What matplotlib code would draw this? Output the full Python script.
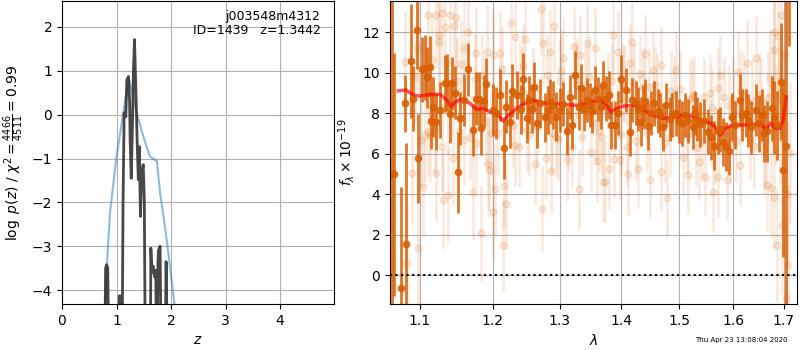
import matplotlib
matplotlib.use("Agg")
import matplotlib.pyplot as plt
from matplotlib.ticker import FixedLocator, FixedFormatter, NullLocator

# ---- left panel: log p(z) ----
z_pz = [0.78, 0.80, 0.82, 0.84, 0.86, 1.04, 1.05, 1.07, 1.09, 1.10, 1.12, 1.14,
        1.17, 1.19, 1.22, 1.24, 1.25, 1.27, 1.29, 1.31, 1.33, 1.36, 1.38, 1.40,
        1.42, 1.43, 1.44, 1.46, 1.49, 1.51, 1.53, 1.62, 1.63, 1.65, 1.67, 1.70,
        1.72, 1.74, 1.76, 1.77, 1.80, 1.82, 1.89, 1.91, 1.94]
logp = [-6.0, -3.5, -3.42, -3.5, -6.0, -6.0, -4.13, -4.13, -4.15, -6.0, -2.0, 0.04,
        -0.05, 0.80, 0.87, 0.30, -0.57, -1.45, -0.40, 1.00, 1.71, 0.33, -0.66, -1.48,
        -0.73, -1.60, -2.32, -1.34, -1.14, -1.94, -6.0, -6.0, -3.04, -3.60, -3.45, -3.70,
        -3.55, -6.0, -3.40, -3.10, -3.00, -6.0, -6.0, -3.35, -6.0]

z_prior = [0.76, 0.79, 0.83, 0.88, 1.00, 1.125, 1.18, 1.23, 1.30, 1.37, 1.49,
           1.61, 1.70, 1.74, 1.80, 1.86, 1.92, 1.99, 2.06, 2.10]
logp_prior = [-5.0, -4.3, -3.3, -2.24, -0.95, 0.04, 0.50, 0.80, 0.45, 0.04, -0.49,
              -0.95, -1.03, -1.05, -1.79, -2.30, -2.85, -3.55, -4.3, -5.0]

# ---- right panel: spectrum (flux x 1e-19) ----
# binned points
wave_bin = [1.064, 1.067, 1.076, 1.080, 1.082, 1.088, 1.091, 1.096, 1.097, 1.103,
            1.107, 1.109, 1.113, 1.115, 1.122, 1.127, 1.133, 1.136, 1.140, 1.143,
            1.151, 1.154, 1.160, 1.165, 1.172, 1.177, 1.180, 1.183, 1.190, 1.200,
            1.205, 1.217, 1.220, 1.225, 1.228, 1.235, 1.241, 1.244, 1.250, 1.254,
            1.261, 1.265, 1.270, 1.277, 1.282, 1.285, 1.290, 1.295, 1.300, 1.305,
            1.312, 1.320, 1.324, 1.330, 1.334, 1.338, 1.343, 1.349, 1.356, 1.361,
            1.366, 1.369, 1.375, 1.383, 1.390, 1.394, 1.400, 1.407, 1.414, 1.418,
            1.424, 1.428, 1.433, 1.440, 1.446, 1.451, 1.456, 1.462, 1.466, 1.471,
            1.477, 1.483, 1.488, 1.495, 1.505, 1.510, 1.516, 1.525, 1.533, 1.538,
            1.546, 1.553, 1.558, 1.564, 1.571, 1.581, 1.587, 1.592, 1.603, 1.613,
            1.618, 1.629, 1.635, 1.645, 1.650, 1.661, 1.666, 1.677, 1.681, 1.694,
            1.699, 1.705, 1.711, 1.118, 1.147, 1.187, 1.210, 1.258, 1.316, 1.352,
            1.379, 1.437, 1.499, 1.529, 1.576, 1.598, 1.624, 1.656, 1.687]
flux_bin = [5.0, 4.99, -0.65, 8.48, 1.52, 10.57, 8.72, 12.1, 5.76, 10.17,
            10.24, 9.76, 10.29, 7.62, 7.57, 8.15, 9.47, 9.50, 7.94, 9.47,
            5.07, 7.74, 8.64, 10.16, 7.16, 8.72, 8.72, 7.24, 9.42, 8.15,
            8.0, 6.26, 8.31, 7.57, 9.10, 8.89, 8.18, 9.66, 7.74, 8.64,
            9.30, 7.49, 8.48, 7.79, 8.15, 8.56, 8.40, 7.82, 8.15, 8.45,
            7.11, 7.41, 9.88, 8.28, 9.22, 8.20, 8.64, 8.40, 9.14, 8.70,
            8.30, 9.38, 8.72, 7.41, 7.41, 8.00, 9.68, 9.14, 7.08, 8.64,
            8.50, 8.20, 7.57, 8.60, 7.36, 8.00, 8.48, 8.10, 7.90, 7.32,
            8.40, 7.70, 7.90, 7.99, 7.49, 7.90, 7.60, 7.32, 7.70, 7.45,
            7.60, 7.08, 6.80, 6.39, 7.10, 6.58, 6.34, 6.14, 7.41, 8.64,
            7.90, 7.65, 7.30, 8.15, 7.50, 7.00, 7.10, 8.23, 7.80, 9.55,
            5.19, 6.39, 14.0, 8.30, 9.00, 8.60, 8.90, 8.20, 8.80, 8.10,
            8.90, 8.30, 7.60, 8.00, 7.20, 7.80, 8.00, 7.90, 7.40]
err_bin = [9.0, 6.0, 5.0, 1.4, 5.0, 2.8, 1.6, 1.9, 2.2, 1.6,
           1.6, 1.5, 1.5, 1.4, 1.4, 1.4, 1.4, 1.4, 1.4, 1.3,
           2.0, 1.3, 1.3, 1.3, 1.3, 1.3, 1.3, 1.3, 1.3, 1.3,
           1.3, 1.5, 1.3, 1.3, 1.3, 1.2, 1.2, 1.3, 1.2, 1.2,
           1.2, 1.2, 1.2, 1.2, 1.2, 1.1, 1.2, 1.2, 1.1, 1.1,
           1.2, 1.2, 1.2, 1.1, 1.2, 1.1, 1.1, 1.1, 1.2, 1.1,
           1.1, 1.2, 1.1, 1.2, 1.2, 1.1, 1.2, 1.1, 1.2, 1.1,
           1.1, 1.1, 1.2, 1.1, 1.2, 1.1, 1.1, 1.1, 1.1, 1.2,
           1.1, 1.1, 1.1, 1.1, 1.1, 1.1, 1.1, 1.1, 1.1, 1.1,
           1.1, 1.1, 1.1, 1.2, 1.1, 1.2, 1.2, 1.2, 1.2, 1.3,
           1.3, 1.3, 1.3, 1.3, 1.4, 1.4, 1.5, 1.6, 1.8, 2.9,
           4.3, 8.0, 2.7, 1.5, 1.3, 1.3, 1.3, 1.2, 1.1, 1.1,
           1.2, 1.1, 1.1, 1.1, 1.1, 1.2, 1.2, 1.3, 1.7]

# unbinned points
wave_raw = [1.081, 1.097, 1.111, 1.121, 1.130, 1.140, 1.149, 1.134, 1.146, 1.126,
            1.125, 1.165, 1.160, 1.177, 1.192, 1.200, 1.104, 1.089, 1.083, 1.097,
            1.122, 1.131, 1.138, 1.145, 1.172, 1.183, 1.200, 1.195, 1.193, 1.204,
            1.120, 1.111, 1.160, 1.177, 1.102, 1.129, 1.227, 1.271, 1.291, 1.274,
            1.233, 1.211, 1.248, 1.285, 1.323, 1.344, 1.356, 1.332, 1.305, 1.217,
            1.220, 1.215, 1.273, 1.232, 1.238, 1.263, 1.279, 1.287, 1.312, 1.331,
            1.350, 1.360, 1.369, 1.250, 1.295, 1.319, 1.207, 1.386, 1.418, 1.394,
            1.440, 1.468, 1.495, 1.453, 1.431, 1.415, 1.372, 1.380, 1.411, 1.428,
            1.448, 1.468, 1.479, 1.516, 1.537, 1.388, 1.397, 1.507, 1.410, 1.367,
            1.548, 1.562, 1.571, 1.588, 1.613, 1.645, 1.627, 1.666, 1.675, 1.681,
            1.686, 1.704, 1.694, 1.681, 1.681, 1.610, 1.575, 1.571, 1.713, 1.672,
            1.150, 1.185, 1.240, 1.260, 1.300, 1.340, 1.378, 1.405, 1.437, 1.460,
            1.490, 1.520, 1.545, 1.600, 1.622, 1.655, 1.690, 1.700, 1.107, 1.168,
            1.253, 1.297, 1.335, 1.425, 1.474, 1.530, 1.595, 1.640, 1.660,
            1.093, 1.116, 1.137, 1.156, 1.175, 1.190, 1.213, 1.230, 1.245, 1.266,
            1.281, 1.302, 1.314, 1.327, 1.347, 1.363, 1.384, 1.399, 1.421, 1.443,
            1.457, 1.484, 1.501, 1.514, 1.527, 1.541, 1.556, 1.566, 1.583, 1.605,
            1.616, 1.633, 1.650, 1.663, 1.678, 1.696, 1.113, 1.153, 1.198, 1.243,
            1.289, 1.326, 1.358, 1.403, 1.447, 1.486, 1.523, 1.560, 1.592, 1.637,
            1.668, 1.684, 1.689, 1.697, 1.702, 1.708, 1.692, 1.706]
flux_raw = [10.53, 11.19, 12.84, 12.84, 12.92, 12.84, 12.68, 12.26, 12.30, 11.85,
            11.52, 12.01, 11.19, 10.95, 11.03, 10.86, 4.36, 5.02, 0.58, 1.32,
            5.02, 3.70, 3.95, 5.76, 4.11, 2.06, 3.11, 5.19, 5.51, 4.23,
            7.16, 7.08, 6.67, 6.50, 6.67, 6.34, 12.43, 13.12, 12.30, 11.44,
            11.74, 10.95, 11.64, 11.03, 11.27, 11.44, 11.19, 10.86, 10.70, 4.40,
            3.51, 1.48, 3.29, 6.42, 6.34, 5.48, 5.76, 5.14, 5.68, 4.23,
            6.09, 5.63, 4.61, 7.16, 6.83, 6.34, 7.00, 11.85, 11.52, 11.03,
            10.91, 10.37, 10.12, 10.12, 9.93, 10.48, 4.61, 5.22, 4.99, 5.22,
            4.72, 5.07, 3.79, 4.94, 5.60, 5.71, 5.68, 5.84, 6.34, 6.83,
            4.86, 4.11, 4.86, 4.69, 5.43, 10.70, 10.48, 4.44, 4.28, 3.87,
            1.48, -1.15, 12.84, 12.01, 11.11, 10.04, 9.88, 9.22, 6.01, 9.71,
            9.60, 9.90, 9.50, 9.20, 9.60, 9.40, 9.10, 9.40, 9.30, 9.00,
            8.90, 8.70, 8.80, 8.70, 8.90, 8.60, 9.00, 8.20, 6.90, 6.80,
            6.90, 6.70, 6.80, 6.60, 6.50, 6.30, 6.50, 6.40, 6.20,
            9.80, 10.60, 8.30, 10.40, 9.70, 7.60, 10.20, 7.40, 10.30, 7.30,
            9.90, 10.10, 7.20, 9.70, 9.80, 7.10, 9.60, 6.90, 9.50, 7.00,
            9.40, 6.80, 9.20, 6.90, 8.90, 6.60, 9.00, 6.40, 8.80, 6.60,
            9.10, 6.70, 8.90, 6.50, 9.40, 8.60, 6.90, 7.10, 7.00, 9.10,
            7.00, 9.40, 7.50, 9.50, 9.30, 9.10, 8.80, 8.30, 8.40, 8.60,
            8.80, 7.90, 11.80, 2.50, 10.90, 0.50, 7.50, 4.00]
err_raw = [2.5, 2.5, 2.6, 2.6, 2.6, 2.5, 2.5, 2.5, 2.5, 2.4,
           2.4, 2.4, 2.4, 2.3, 2.3, 2.3, 2.4, 2.5, 3.0, 2.8,
           2.4, 2.4, 2.3, 2.3, 2.3, 2.4, 2.3, 2.3, 2.3, 2.3,
           2.2, 2.2, 2.2, 2.2, 2.3, 2.2, 2.2, 2.2, 2.2, 2.1,
           2.1, 2.1, 2.1, 2.1, 2.0, 2.0, 2.0, 2.0, 2.0, 2.1,
           2.2, 2.3, 2.1, 2.0, 2.0, 2.0, 2.0, 2.0, 2.0, 2.0,
           2.0, 2.0, 2.0, 2.0, 2.0, 2.0, 2.0, 2.0, 2.0, 2.0,
           2.0, 1.9, 1.9, 1.9, 1.9, 1.9, 2.0, 2.0, 2.0, 1.9,
           1.9, 1.9, 1.9, 1.9, 1.9, 1.9, 1.9, 1.9, 1.9, 1.9,
           1.9, 2.0, 2.0, 2.0, 2.0, 2.1, 2.1, 2.3, 2.4, 2.6,
           2.8, 3.5, 3.0, 2.8, 2.7, 2.0, 2.0, 2.0, 3.5, 2.4,
           2.1, 2.0, 2.0, 2.0, 2.0, 1.9, 1.9, 1.9, 1.9, 1.9,
           1.9, 1.9, 1.9, 2.0, 2.0, 2.1, 2.5, 2.8, 2.3, 2.1,
           2.0, 2.0, 1.9, 1.9, 1.9, 1.9, 2.0, 2.1, 2.2,
           2.4, 2.3, 2.3, 2.2, 2.2, 2.2, 2.1, 2.1, 2.1, 2.0,
           2.0, 2.0, 2.0, 2.0, 2.0, 2.0, 1.9, 1.9, 1.9, 1.9,
           1.9, 1.9, 1.9, 1.9, 1.9, 1.9, 1.9, 1.9, 1.9, 2.0,
           2.0, 2.0, 2.1, 2.2, 2.3, 2.6, 2.3, 2.2, 2.1, 2.1,
           2.0, 2.0, 2.0, 1.9, 1.9, 1.9, 1.9, 1.9, 2.0, 2.1,
           2.2, 2.4, 3.2, 3.4, 3.8, 4.0, 3.0, 3.6]

# model
wave_model = [1.072, 1.082, 1.091, 1.100, 1.113, 1.127, 1.136, 1.142, 1.148, 1.157,
              1.168, 1.177, 1.186, 1.196, 1.208, 1.215, 1.223, 1.235, 1.247, 1.260,
              1.270, 1.285, 1.300, 1.316, 1.332, 1.348, 1.364, 1.375, 1.382, 1.392,
              1.403, 1.420, 1.436, 1.453, 1.471, 1.489, 1.507, 1.522, 1.541, 1.559,
              1.568, 1.576, 1.584, 1.600, 1.619, 1.639, 1.656, 1.665, 1.674, 1.683,
              1.692, 1.699, 1.705]
flux_model = [9.10, 9.14, 8.89, 8.84, 8.92, 8.92, 8.64, 8.31, 8.56, 8.69,
              8.48, 8.18, 8.23, 8.07, 7.90, 7.62, 7.90, 8.23, 8.48, 8.64,
              8.51, 8.48, 8.44, 8.40, 8.38, 8.56, 8.61, 8.40, 8.07, 8.23,
              8.35, 8.38, 8.18, 7.90, 7.74, 7.79, 7.90, 7.85, 7.65, 7.49,
              7.24, 6.91, 7.24, 7.41, 7.41, 7.46, 7.41, 7.19, 7.52, 7.24,
              7.24, 7.65, 8.80]

orange = "#d95f02"

fig = plt.figure(figsize=(8, 3.5), dpi=100)
ax1 = fig.add_axes([0.0775, 0.131, 0.34, 0.866])
ax2 = fig.add_axes([0.4875, 0.131, 0.5085, 0.866])

# p(z)
ax1.plot(z_prior, logp_prior, color="tab:blue", alpha=0.5, lw=1.5)
ax1.plot(z_pz, logp, color="0.2", alpha=0.9, lw=2)
ax1.set_xlim(0, 4.99)
ax1.set_ylim(-4.32, 2.59)
ax1.set_xticks([0, 1, 2, 3, 4])
ax1.set_yticks([-4, -3, -2, -1, 0, 1, 2])
ax1.grid()
ax1.set_xlabel("$z$")
ax1.set_ylabel(r"$\log\ p(z)$ / $\chi^2=\frac{4466}{4511}=0.99$")
ax1.text(0.95, 0.97, "j003548m4312\nID=1439   z=1.3442", transform=ax1.transAxes,
         ha="right", va="top", fontsize=9, linespacing=1.1)

# spectrum
ax2.errorbar(wave_raw, flux_raw, yerr=err_raw, color=orange, alpha=0.13,
             marker="o", ms=5, lw=2, linestyle="None")
ax2.errorbar(wave_bin, flux_bin, yerr=err_bin, color=orange, alpha=0.85,
             marker="o", ms=4.5, lw=2, linestyle="None")
ax2.plot(wave_model, flux_model, color="red", alpha=0.65, lw=2.5)
ax2.axhline(0, color="k", ls=":", lw=1.5)
ax2.set_xscale("log")
ax2.set_xlim(1.0613, 1.7268)
ax2.set_ylim(-1.43, 13.53)
xt = [1.1, 1.2, 1.3, 1.4, 1.5, 1.6, 1.7]
ax2.xaxis.set_major_locator(FixedLocator(xt))
ax2.xaxis.set_major_formatter(FixedFormatter([f"{v:.1f}" for v in xt]))
ax2.xaxis.set_minor_locator(NullLocator())
ax2.set_yticks([0, 2, 4, 6, 8, 10, 12])
ax2.grid()
ax2.set_xlabel(r"$\lambda$")
ax2.set_ylabel(r"$f_\lambda\times10^{-19}$")

fig.text(0.985, 0.02, "Thu Apr 23 13:08:04 2020", ha="right", va="bottom", fontsize=5)

fig.savefig("out.png", dpi=100)
